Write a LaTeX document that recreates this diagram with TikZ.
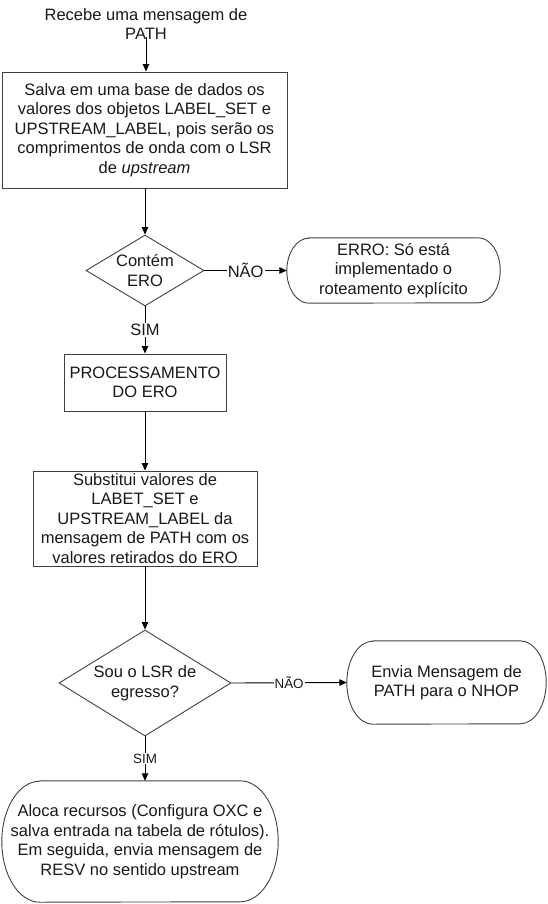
\documentclass[tikz,border=0pt]{standalone}
\usepackage{fontspec}
\setmainfont{Liberation Sans}
\usetikzlibrary{shapes.geometric,arrows.meta}
\tikzset{
  base/.style={font=\fontsize{16.5}{19.5}\selectfont, align=center, inner sep=0pt, text=black!90},
  procbox/.style={base, rectangle, draw=black!75, line width=0.9pt, fill=white},
  decision/.style={diamond, draw=black!75, line width=0.9pt, inner sep=0pt},
  termbox/.style={base, rectangle},
  termline/.style={draw=black!75, line width=0.9pt},
  arr/.style={draw=black, line width=0.9pt, -{Triangle[length=7.5pt,width=6.5pt]}},
  lbl/.style={base, fill=white, inner sep=1pt},
  slbl/.style={font=\fontsize{13.4}{16}\selectfont, fill=white, inner sep=1pt, text=black!90}
}
\newcommand\stadium[3]{% node, xradius, yradius
  \draw[termline] ([xshift=#2]#1.north west) -- ([xshift=-#2]#1.north east)
    arc[start angle=90,end angle=-90,x radius=#2,y radius=#3]
    -- ([xshift=#2]#1.south west)
    arc[start angle=270,end angle=90,x radius=#2,y radius=#3] -- cycle;}
\begin{document}
\begin{tikzpicture}[x=1pt,y=1pt]
\useasboundingbox (0,0) rectangle (548,-904);

\node[base] (top) at (146,-24) {Recebe uma mensagem de\\PATH};
\coordinate (s) at (146,-37);

\node[procbox, minimum width=285, minimum height=116] (b1) at (144.5,-130)
  {Salva em uma base de dados os\\valores dos objetos LABEL\_SET e\\UPSTREAM\_LABEL, pois serão os\\comprimentos de onda com o LSR\\de \textit{upstream}};

\node[decision, minimum width=118, minimum height=71] (d1) at (145,-270.5) {};
\node[base] (d1t) at (d1.center) {Contém\\ERO};

\node[termbox, minimum width=213, minimum height=65] (t1) at (393.5,-270.5)
  {ERRO: Só está\\implementado o\\roteamento explícito};
\stadium{t1}{22}{32.5}

\node[procbox, minimum width=162, minimum height=57] (b2) at (145,-382.5)
  {PROCESSAMENTO\\DO ERO};

\node[procbox, minimum width=224, minimum height=95] (b3) at (145,-518.5)
  {Substitui valores de\\LABET\_SET e\\UPSTREAM\_LABEL da\\mensagem de PATH com os\\valores retirados do ERO};

\node[decision, minimum width=172, minimum height=106] (d2) at (145,-683) {};
\node[base] (d2t) at (d2.center) {Sou o LSR de\\egresso?};

\node[termbox, minimum width=199, minimum height=83] (t2) at (446.5,-682.5)
  {Envia Mensagem de\\PATH para o NHOP};
\stadium{t2}{26}{41.5}

\node[termbox, minimum width=276, minimum height=121] (t3) at (140,-841.5)
  {Aloca recursos (Configura OXC e\\salva entrada na tabela de rótulos).\\Em seguida, envia mensagem de\\RESV no sentido upstream};
\stadium{t3}{38}{60.5}

\draw[arr] (s) -- (s |- b1.north);
\draw[arr] (b1.south -| d1.north) -- (d1.north);
\draw[arr] (d1.east) -- node[lbl] (n1) {NÃO} (t1.west);
\draw[arr] (d1.south) -- node[lbl] (y1) {SIM} (b2.north);
\draw[arr] (b2.south) -- (b3.north);
\draw[arr] (b3.south) -- (d2.north);
\draw[arr] (d2.east) -- node[slbl] (n2) {NÃO} (t2.west);
\draw[arr] (d2.south) -- node[slbl] (y2) {SIM} (d2.south |- t3.north);
\end{tikzpicture}
\end{document}
